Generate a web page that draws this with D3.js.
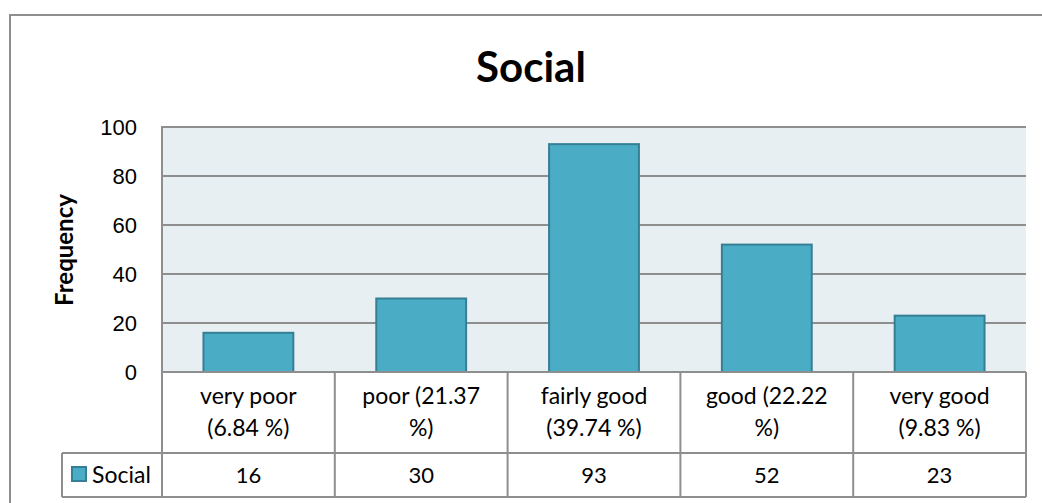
<!DOCTYPE html>
<html>
<head>
<meta charset="UTF-8">
<title>Social</title>
<style>
body { margin: 0; background: #fff; }
svg { display: block; font-family: Lato, "Open Sans", sans-serif; }
.grid line { stroke: #8e8e8e; stroke-width: 2px; }
.yAxis text { font-size: 22px; fill: #000; }
.bar { fill: #4bacc6; stroke: #357f94; stroke-width: 2px; }
.tbl line { stroke: #8e8e8e; stroke-width: 2px; }
.cell { font-size: 23px; fill: #000; text-anchor: middle; }
.val { font-size: 22px; fill: #000; text-anchor: middle; }
</style>
</head>
<body>
<div class="chart"></div>
<script src="https://cdn.jsdelivr.net/npm/d3@7/dist/d3.min.js"></script>
<script>

const categories = ['very poor (6.84 %)', 'poor (21.37 %)', 'fairly good (39.74 %)', 'good (22.22 %)', 'very good (9.83 %)'];
const catLines = [['very poor', '(6.84 %)'], ['poor (21.37', '%)'], ['fairly good', '(39.74 %)'], ['good (22.22', '%)'], ['very good', '(9.83 %)']];
const socialValues = [16, 30, 93, 52, 23];
const yTicks = [0, 20, 40, 60, 80, 100];
const seriesName = 'Social';

let width = 1042, height = 503;
let plotL = 162, plotR = 1026, plotT = 127, plotB = 372;
let rowMid = 453, rowEnd = 497, legendLeft = 62;

let svg = d3.select('.chart').append('svg')
    .attr('width', width)
    .attr('height', height);

// outer chart border (runs off right and bottom)
svg.append('rect')
    .attr('x', 10).attr('y', 15)
    .attr('width', 1100).attr('height', 600)
    .attr('fill', 'none')
    .attr('stroke', '#8e8e8e')
    .attr('stroke-width', 2);

svg.append('text')
    .attr('x', 531).attr('y', 82)
    .attr('text-anchor', 'middle')
    .style('font-size', '42px')
    .style('font-weight', 'bold')
    .text('Social');

let xScale = d3.scaleBand()
    .domain(categories)
    .range([plotL, plotR])
    .paddingInner(0.48)
    .paddingOuter(0.24);

let yScale = d3.scaleLinear()
    .domain([0, 100])
    .range([plotB, plotT]);

// plot background
svg.append('rect')
    .attr('x', plotL).attr('y', plotT)
    .attr('width', plotR - plotL).attr('height', plotB - plotT)
    .attr('fill', '#e8eff3');

// gridlines
svg.append('g')
    .attr('class', 'grid')
    .selectAll('line')
    .data(yTicks.filter(d => d > 0))
    .enter().append('line')
    .attr('x1', plotL).attr('x2', plotR)
    .attr('y1', d => yScale(d)).attr('y2', d => yScale(d));

svg.append('line')
    .attr('x1', plotL).attr('x2', plotL)
    .attr('y1', plotT - 1).attr('y2', plotB)
    .attr('stroke', '#8e8e8e').attr('stroke-width', 2);

// bars
svg.append('g')
    .selectAll('rect')
    .data(socialValues)
    .enter().append('rect')
    .attr('class', 'bar')
    .attr('x', (d, i) => xScale(categories[i]))
    .attr('y', d => yScale(d))
    .attr('width', xScale.bandwidth())
    .attr('height', d => plotB - yScale(d));

// y axis labels
let yAxis = d3.axisLeft(yScale)
    .tickValues(yTicks)
    .tickSize(0)
    .tickPadding(25);

svg.append('g')
    .attr('class', 'yAxis')
    .attr('transform', 'translate(' + plotL + ',0)')
    .call(yAxis)
    .call(g => g.select('.domain').remove());

svg.append('text')
    .attr('transform', 'translate(73,250) rotate(-90)')
    .attr('text-anchor', 'middle')
    .style('font-size', '24px')
    .style('font-weight', 'bold')
    .text('Frequency');

// data table
let step = (plotR - plotL) / categories.length;
let tbl = svg.append('g').attr('class', 'tbl');

tbl.append('line').attr('x1', plotL).attr('x2', plotR).attr('y1', plotB).attr('y2', plotB);
tbl.append('line').attr('x1', legendLeft).attr('x2', plotR).attr('y1', rowMid).attr('y2', rowMid);
tbl.append('line').attr('x1', legendLeft).attr('x2', plotR).attr('y1', rowEnd).attr('y2', rowEnd);
tbl.append('line').attr('x1', legendLeft).attr('x2', legendLeft).attr('y1', rowMid).attr('y2', rowEnd);

tbl.selectAll('.vline')
    .data(d3.range(categories.length + 1))
    .enter().append('line')
    .attr('class', 'vline')
    .attr('x1', i => plotL + i * step).attr('x2', i => plotL + i * step)
    .attr('y1', plotB).attr('y2', rowEnd);

let catText = svg.append('g').selectAll('text')
    .data(catLines)
    .enter().append('text')
    .attr('class', 'cell')
    .attr('x', (d, i) => xScale(categories[i]) + xScale.bandwidth() / 2)
    .attr('y', 404);

catText.selectAll('tspan')
    .data(d => d)
    .enter().append('tspan')
    .attr('x', function () { return this.parentNode.getAttribute('x'); })
    .attr('dy', (d, j) => j === 0 ? 0 : 32)
    .text(d => d);

svg.append('g').selectAll('text')
    .data(socialValues)
    .enter().append('text')
    .attr('class', 'val')
    .attr('x', (d, i) => xScale(categories[i]) + xScale.bandwidth() / 2)
    .attr('y', 483)
    .text(d => d);

// legend key
svg.append('rect')
    .attr('class', 'bar')
    .attr('x', 72).attr('y', 467)
    .attr('width', 14).attr('height', 14);

svg.append('text')
    .attr('x', 92).attr('y', 483)
    .style('font-size', '23px')
    .text(seriesName);

</script>
</body>
</html>
